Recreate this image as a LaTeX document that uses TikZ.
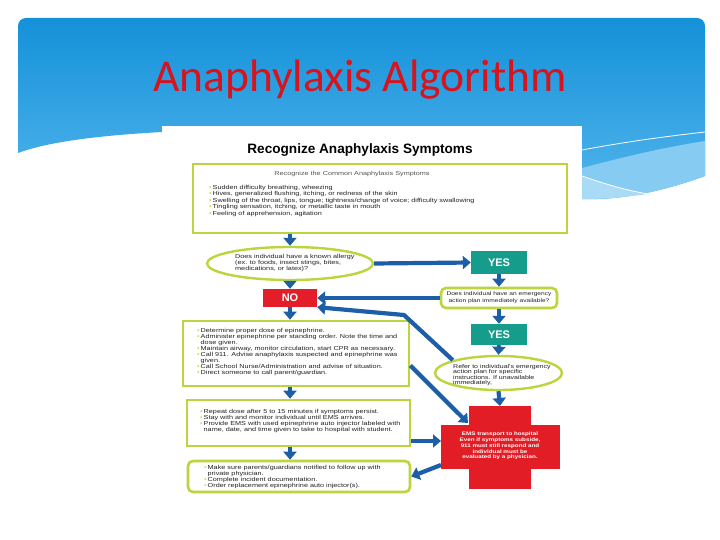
\documentclass[tikz,border=0pt]{standalone}
\usepackage{fontspec}
\setmainfont{Liberation Sans}
\newfontfamily\titlefont{Carlito}
\newfontfamily\flowfont[FakeStretch=1.25]{Liberation Sans}
\usetikzlibrary{arrows.meta,shapes.geometric,calc}
\definecolor{hdrtop}{HTML}{1591D9}
\definecolor{hdrbot}{HTML}{52B5EC}
\definecolor{hdrlight}{HTML}{86CBF2}
\definecolor{hdrlighter}{HTML}{A9DBF7}
\definecolor{titlered}{HTML}{D7141E}
\definecolor{lime}{HTML}{BCD43E}
\definecolor{arrowblue}{HTML}{1C5EA8}
\definecolor{teal}{HTML}{169C8A}
\definecolor{nored}{HTML}{E41E28}
\definecolor{crossred}{HTML}{E31D25}
\definecolor{txt}{HTML}{222222}
\definecolor{subtxt}{HTML}{555555}
\newcommand{\bl}{{\color{lime}\textbullet}\,}
\tikzset{
  flowbox/.style={draw=lime,line width=2.6pt,fill=white,inner sep=0pt},
  roundbox/.style={flowbox,rounded corners=5pt},
  oval/.style={ellipse,draw=lime,line width=2.4pt,fill=white,inner sep=0pt},
  body/.style={font=\flowfont\fontsize{5.8}{6.0}\selectfont,text=txt,align=left,inner sep=0pt},
  yesbox/.style={fill=teal,text=white,font=\bfseries\fontsize{11}{11}\selectfont,inner sep=0pt},
  nobox/.style={fill=nored,text=white,font=\bfseries\fontsize{11}{11}\selectfont,inner sep=0pt},
  flow/.style={draw=arrowblue,line width=4.2pt,-{Triangle[width=13pt,length=8pt]}},
}
\begin{document}
\begin{tikzpicture}[x=1pt,y=-1pt]
\useasboundingbox (0,0) rectangle (720,540);
% header
\begin{scope}
\clip[rounded corners=8pt] (18,18) -- (705,18) -- (705,300) -- (18,300) -- cycle;
\path[top color=hdrtop,bottom color=hdrbot] (18,18) -- (705,18) -- (705,176)
  .. controls (650,196) and (610,200) .. (582,199) -- (162,132)
  .. controls (90,136) and (45,143) .. (18,153) -- cycle;
\fill[hdrlight] (582,168) .. controls (620,158) and (660,148) .. (705,141) -- (705,176)
  .. controls (650,196) and (610,200) .. (582,199) -- cycle;
\fill[hdrlighter] (582,176) .. controls (605,184) and (625,190) .. (648,194)
  .. controls (620,198) and (600,199) .. (582,199) -- cycle;
\draw[white,line width=0.8pt] (582,150) .. controls (630,141) and (670,136) .. (705,132);
\draw[white,line width=0.8pt] (582,176) .. controls (605,184) and (625,190) .. (648,194);
\end{scope}
\node[font=\titlefont\fontsize{45.5}{50}\selectfont,text=titlered,anchor=base] (title) at (360,92) {Anaphylaxis Algorithm};
% flowchart sheet
\fill[white] (162,126) rectangle (582,530);
\node[font=\bfseries\fontsize{13.6}{14}\selectfont,text=black] (head) at (360,150) {Recognize Anaphylaxis Symptoms};
% top box
\node[flowbox,minimum width=374pt,minimum height=69pt] (sym) at (380,198.5) {};
\node[body,text=subtxt] (symhead) at (352,174) {Recognize the Common Anaphylaxis Symptoms};
\node[body,anchor=north west,font=\flowfont\fontsize{5.8}{6.4}\selectfont] (symlist) at (209,185) {\bl Sudden difficulty breathing, wheezing\\
\bl Hives, generalized flushing, itching, or redness of the skin\\
\bl Swelling of the throat, lips, tongue; tightness/change of voice; difficulty swallowing\\
\bl Tingling sensation, itching, or metallic taste in mouth\\
\bl Feeling of apprehension, agitation};
% allergy ellipse
\node[oval,minimum width=166pt,minimum height=33pt] (allergy) at (290,263.5) {};
\node[body,anchor=west] (allergytxt) at (235,262.5) {Does individual have a known allergy\\(ex. to foods, insect stings, bites,\\medications, or latex)?};
\node[yesbox,minimum width=56pt,minimum height=23pt] (yes1) at (499,262.5) {YES};
\node[roundbox,minimum width=116pt,minimum height=20pt] (plan) at (499,298) {};
\node[body,align=center,font=\flowfont\fontsize{5.3}{7}\selectfont] (plantxt) at (499,297.5) {Does individual have an emergency\\action plan immediately available?};
\node[nobox,minimum width=54pt,minimum height=18pt] (no) at (290,298) {NO};
% box 2
\node[flowbox,minimum width=226pt,minimum height=65pt] (act) at (296,353.5) {};
\node[body,anchor=north west] (acttxt) at (197,328) {\bl Determine proper dose of epinephrine.\\
\bl Administer epinephrine per standing order. Note the time and\\
\phantom{\bl}dose given.\\
\bl Maintain airway, monitor circulation, start CPR as necessary.\\
\bl Call 911. Advise anaphylaxis suspected and epinephrine was\\
\phantom{\bl}given.\\
\bl Call School Nurse/Administration and advise of situation.\\
\bl Direct someone to call parent/guardian.};
\node[yesbox,minimum width=56pt,minimum height=21pt] (yes2) at (499,334.5) {YES};
\node[oval,minimum width=127pt,minimum height=34pt] (refer) at (498.5,373) {};
\node[body,anchor=west,font=\flowfont\fontsize{5.6}{5.6}\selectfont] (refertxt) at (453,375) {Refer to individual's emergency\\action plan for specific\\instructions. If unavailable\\immediately,};
% box 3
\node[flowbox,minimum width=223pt,minimum height=46pt] (repeat) at (298.5,423) {};
\node[body,anchor=north west] (repeattxt) at (200,409.5) {\bl Repeat dose after 5 to 15 minutes if symptoms persist.\\
\bl Stay with and monitor individual until EMS arrives.\\
\bl Provide EMS with used epinephrine auto injector labeled with\\
\phantom{\bl}name, date, and time given to take to hospital with student.};
% box 4
\node[roundbox,minimum width=222pt,minimum height=31pt] (follow) at (299,476.5) {};
\node[body,anchor=north west] (followtxt) at (204,465.5) {\bl Make sure parents/guardians notified to follow up with\\
\phantom{\bl}private physician.\\
\bl Complete incident documentation.\\
\bl Order replacement epinephrine auto injector(s).};
% red cross
\fill[crossred] (469,406) rectangle (531,489);
\fill[crossred] (441,425) rectangle (560,469);
\coordinate (crossc) at (500,446);
\coordinate (crossN) at (500,406);
\coordinate (crossW) at (441,441);
\coordinate (crossWL) at (441,465);
\coordinate (crossNW) at (468,423);
\node[align=center,text=white,font=\flowfont\bfseries\fontsize{5.0}{5.8}\selectfont,inner sep=0pt] (ems) at (crossc) {EMS transport to hospital\\Even if symptoms subside,\\911 must still respond and\\individual must be\\evaluated by a physician.};
% arrows
\draw[flow] (sym.south -| allergy) -- (allergy.north);
\draw[flow] (allergy.east) -- (yes1.west);
\draw[flow] (yes1.south) -- (plan.north);
\draw[flow] (plan.west) -- (no.east);
\draw[flow] (allergy.south) -- (no.north);
\draw[flow] (no.south) -- (no.south |- act.north);
\draw[flow] (plan.south) -- (yes2.north);
\draw[flow] (yes2.south) -- (refer.north);
\draw[flow] (refer.north west) -- (404,315) -- (no.south east);
\draw[flow] (act.east) ++(0,12) coordinate (actE) -- (crossNW);
\draw[flow] (refer.south) -- (crossN);
\draw[flow] (repeat.east |- crossW) -- (crossW);
\draw[flow] (crossWL) -- (follow.east);
\draw[flow] (act.south -| allergy) -- (repeat.north -| allergy);
\draw[flow] (repeat.south -| allergy) -- (follow.north -| allergy);
\end{tikzpicture}
\end{document}
